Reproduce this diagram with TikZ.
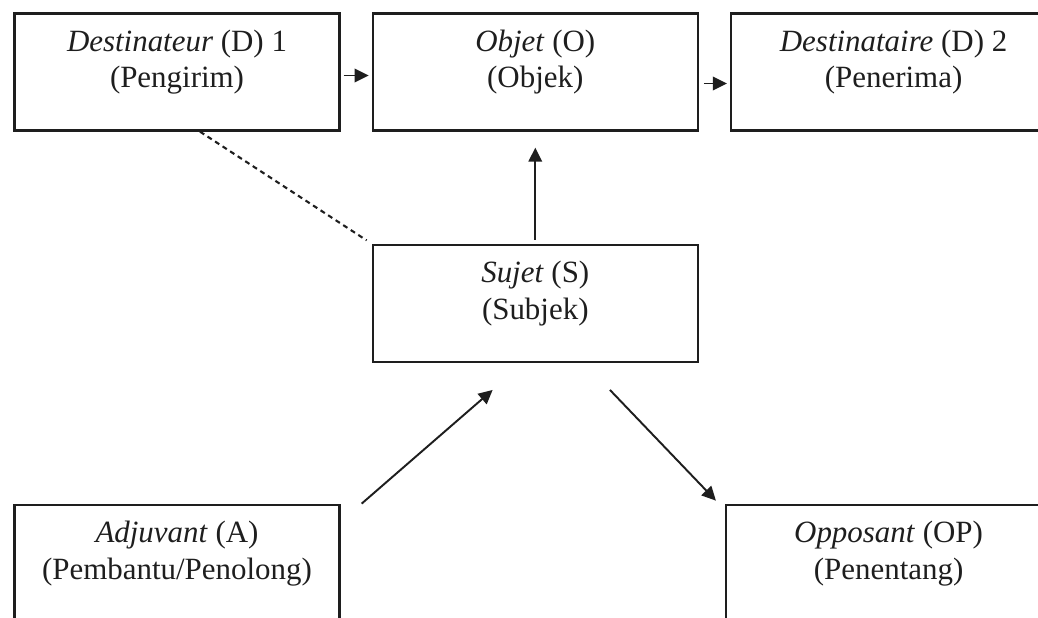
\documentclass[tikz,border=0pt]{standalone}
\usepackage{fontspec}
\setmainfont{Liberation Serif}
\usetikzlibrary{arrows.meta,positioning}
\definecolor{ink}{RGB}{30,30,30}
\tikzset{
  >={Triangle[length=2.8mm,width=2.7mm]},
  actant/.style={draw=ink,line width=1.3pt,minimum width=6.5cm,minimum height=2.34cm,
    align=center,text=ink,font=\fontsize{17.6}{21}\selectfont,
    text height=1.2cm,text depth=0.56cm},
  flow/.style={->,line width=1.1pt,draw=ink},
  link/.style={line width=1.2pt,draw=ink,dash pattern=on 0.1cm off 0.08cm},
}
\begin{document}
\begin{tikzpicture}
  \useasboundingbox (0,0) rectangle (20.76,-12.36);
  \clip (0,0) rectangle (20.76,-12.36);
  % top row
  \node[actant] (dest1) at (3.54,-1.44) {\textit{Destinateur} (D) 1\\(Pengirim)};
  \node[actant,right=0.62cm of dest1] (objet) {\textit{Objet} (O)\\(Objek)};
  \node[actant,right=0.62cm of objet] (dest2) {\textit{Destinataire} (D) 2\\(Penerima)};
  % subject and helpers
  \node[actant,below=2.24cm of objet] (sujet) {\textit{Sujet} (S)\\(Subjek)};
  \node[actant,below=7.44cm of dest1] (adj) {\textit{Adjuvant} (A)\\(Pembantu/Penolong)};
  \node[actant,below=7.44cm of dest2,xshift=-0.1cm] (opp) {\textit{Opposant} (OP)\\(Penentang)};
  % connectors
  \draw[flow,shorten <=0.06cm,shorten >=0.06cm] ([yshift=-0.07cm]dest1.east) -- ([yshift=-0.07cm]objet.west);
  \draw[flow,shorten <=0.1cm,shorten >=0.06cm] ([yshift=-0.23cm]objet.east) -- ([yshift=-0.23cm]dest2.west);
  \draw[flow,shorten <=0.08cm,shorten >=0.32cm] (sujet.north) -- (objet.south);
  \draw[link,shorten >=0.12cm] ([xshift=0.46cm]dest1.south) -- (sujet.north west);
  \draw[flow] ([xshift=0.42cm]adj.north east) -- ([xshift=2.42cm,yshift=-0.54cm]sujet.south west);
  \draw[flow] ([xshift=-1.78cm,yshift=-0.54cm]sujet.south east) -- ([xshift=-0.18cm,yshift=0.06cm]opp.north west);
\end{tikzpicture}
\end{document}
